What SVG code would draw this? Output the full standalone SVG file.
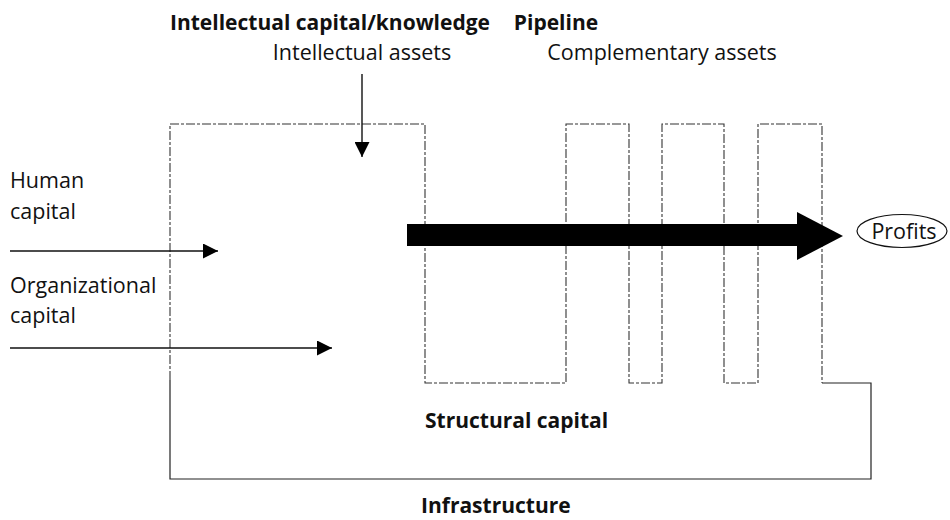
<svg xmlns="http://www.w3.org/2000/svg" width="950" height="520" viewBox="0 0 950 520">
  <style>
    text { font-family: "Open Sans", "Noto Sans", "Liberation Sans", sans-serif; font-size: 21.5px; fill: #111; }
    .b { font-weight: bold; font-size: 21px; }
    .mid { text-anchor: middle; }
    .outline { fill: none; stroke: #333; stroke-width: 1.1; stroke-dasharray: 9 2 3 2; }
    .base { fill: none; stroke: #222; stroke-width: 1.2; }
    .thin { stroke: #111; stroke-width: 1.4; fill: none; }
  </style>
  <defs>
    <marker id="tri" viewBox="0 0 10 10" refX="10" refY="5" markerWidth="15" markerHeight="15" markerUnits="userSpaceOnUse" orient="auto">
      <path d="M0,0 L10,5 L0,10 Z" fill="#000"/>
    </marker>
  </defs>

  <!-- headings -->
  <g id="heading-knowledge">
    <text class="b mid" x="330" y="30">Intellectual capital/knowledge</text>
    <text class="mid" x="362" y="60">Intellectual assets</text>
  </g>
  <g id="heading-pipeline">
    <text class="b mid" x="556" y="30">Pipeline</text>
    <text class="mid" x="662" y="60">Complementary assets</text>
  </g>

  <!-- capital structure: knowledge block, pipeline columns and infrastructure base -->
  <g id="structure">
    <path class="outline" d="M170,380 L170,124 L425,124 L425,383 L566,383 L566,124 L629,124 L629,383 L662,383 L662,124 L724,124 L724,383 L758,383 L758,124 L822,124 L822,383"/>
    <path class="base" d="M170,380 L170,479 L871,479 L871,383 L822,383"/>
    <text class="b" x="425" y="428">Structural capital</text>
    <text class="b" x="421" y="513">Infrastructure</text>
  </g>

  <g id="human-capital">
    <text x="10" y="188">Human</text>
    <text x="10" y="219">capital</text>
  </g>
  <g id="organizational-capital">
    <text x="10" y="293">Organizational</text>
    <text x="10" y="323">capital</text>
  </g>

  <g id="profits">
    <ellipse cx="902" cy="231" rx="45" ry="16.5" fill="#fff" stroke="#111" stroke-width="1.2"/>
    <text class="mid" x="904" y="239">Profits</text>
  </g>

  <!-- connectors -->
  <g id="connectors">
    <line class="thin" x1="362" y1="74" x2="362" y2="157" marker-end="url(#tri)"/>
    <line class="thin" x1="10" y1="251" x2="218" y2="251" marker-end="url(#tri)"/>
    <line class="thin" x1="10" y1="348" x2="332" y2="348" marker-end="url(#tri)"/>
    <rect x="407" y="224" width="392" height="22" fill="#000"/>
    <path d="M797,212 L843,236 L797,260 Z" fill="#000"/>
  </g>
</svg>
